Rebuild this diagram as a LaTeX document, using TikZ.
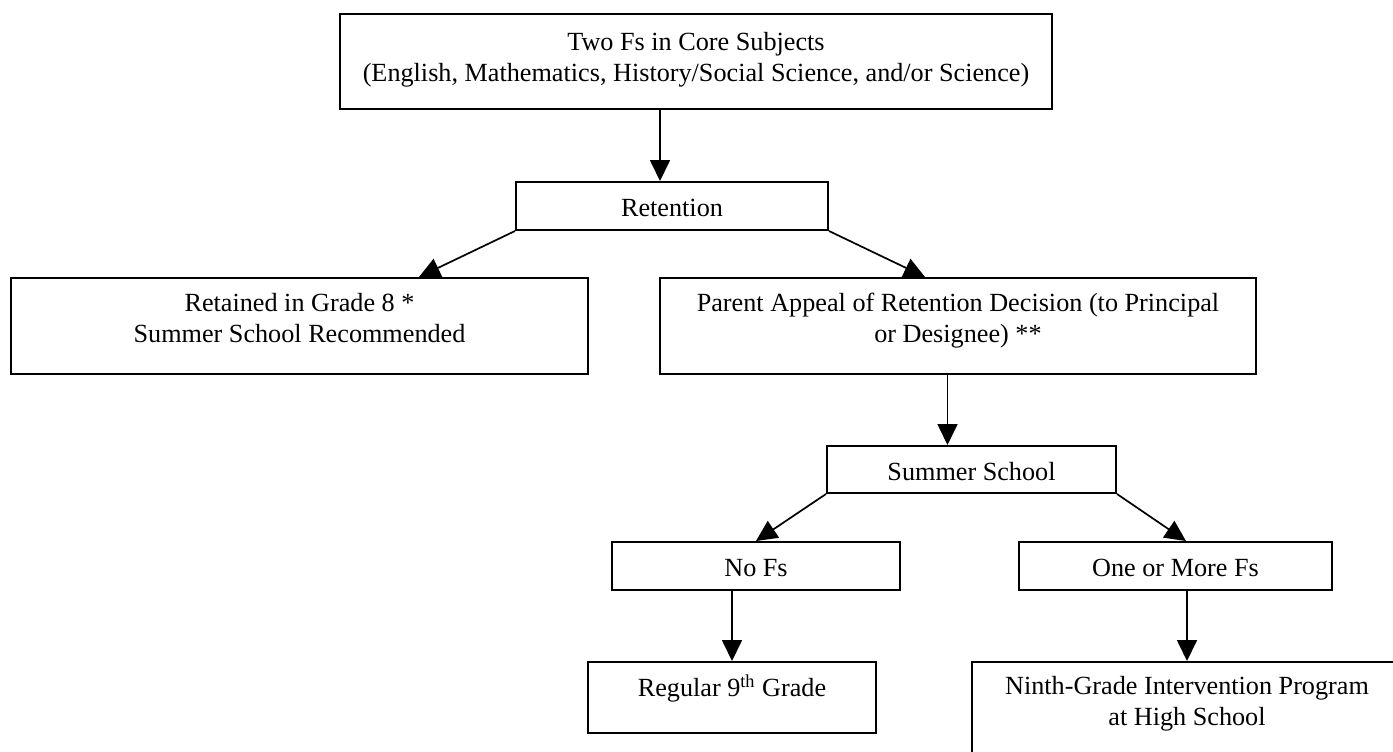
\documentclass[tikz,border=0pt]{standalone}
\usepackage{fontspec}
\setmainfont{Liberation Serif}
\usetikzlibrary{arrows.meta}
\usetikzlibrary{calc}

\begin{document}
\begin{tikzpicture}[x=0.5pt, y=-0.5pt,
    font=\fontsize{13.1pt}{15.25pt}\selectfont,
    box/.style={draw, line width=1pt, align=center, inner sep=0pt, anchor=base, text height=17pt},
    link/.style={-{Triangle[length=10.5pt, width=10pt]}, line width=0.85pt}]
            \useasboundingbox (0,0) rectangle (1393,751);
            \clip (0,0) rectangle (1393,751);
            % multi-line boxes sit on the baseline of their last line
            \node[box, minimum width=356pt, text height=33.5pt, text depth=14pt] (TF) at (696,81) {Two Fs in Core Subjects\\(English, Mathematics, History/Social Science, and/or Science)};
            \node[box, minimum width=156pt, text depth=7pt] (RET) at (672,216) {Retention};
            \node[box, minimum width=288.5pt, text height=32pt, text depth=16pt] (RG8) at (299.5,342) {Retained in Grade 8 *\\Summer School Recommended};
            \node[box, minimum width=298pt, text height=32pt, text depth=16pt] (PA) at (958,342) {Parent Appeal of Retention Decision (to Principal\\or Designee) **};
            \node[box, minimum width=144.5pt, text depth=6.5pt] (SS) at (971.5,480) {Summer School};
            \node[box, minimum width=144pt, text depth=7pt] (NF) at (756,576) {No Fs};
            \node[box, minimum width=156.5pt, text depth=7pt] (OM) at (1175.5,576) {One or More Fs};
            \node[box, minimum width=144pt, text depth=18.5pt] (R9) at (732,696) {Regular 9\textsuperscript{th} Grade};
            \node[box, minimum width=215pt, text height=31.5pt, text depth=14.5pt] (NGI) at (1187,725) {Ninth-Grade Intervention Program\\at High School};
            \draw[link] ([xshift=-6pt]RET.north |- TF.south) -- ([xshift=-6pt]RET.north);
            \draw[link] (RET.south west) -- ([xshift=59.75pt]RG8.north);
            \draw[link] (RET.south east) -- ([xshift=-16.5pt]PA.north);
            \draw[link] ([xshift=-12pt]SS.north |- PA.south) -- ([xshift=-12pt]SS.north);
            \draw[link] (SS.south west) -- (NF.north);
            \draw[link] (SS.south east) -- ([xshift=5.25pt]OM.north);
            \draw[link] (R9.north |- NF.south) -- (R9.north);
            \draw[link] (NGI.north |- OM.south) -- (NGI.north);
        \end{tikzpicture}
\end{document}
